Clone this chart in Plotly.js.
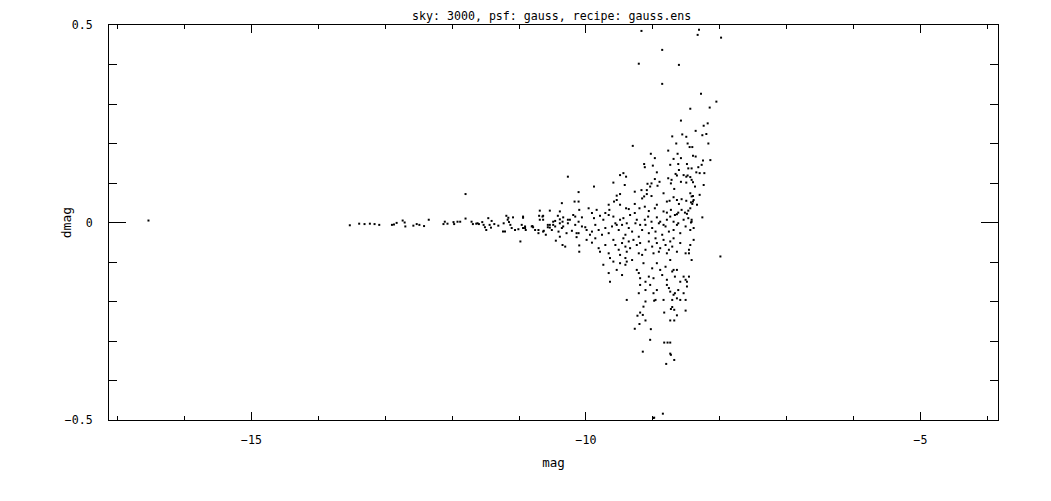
<!DOCTYPE html>
<html>
<head>
<meta charset="utf-8">
<script src="https://cdn.plot.ly/plotly-3.0.1.min.js"></script>
<style>html,body{margin:0;padding:0;background:#fff;}#chart{width:1051px;height:501px;}</style>
</head>
<body>
<div id="chart"></div>
<script>
const titleText = "sky: 3000, psf: gauss, recipe: gauss.ens";
const xTitle = "mag";
const yTitle = "dmag";

const mag = [
-16.54,-13.53,-13.39,-13.31,-13.23,-13.16,-13.09,-12.90,-12.87,-12.83,-12.74,-12.71,-12.70,-12.58,-12.53,-12.49,-12.42,-12.35,-12.13,-12.11,
-12.07,-11.98,-11.97,-11.92,-11.88,-11.80,-11.80,-11.71,-11.69,-11.64,-11.62,-11.60,-11.55,-11.53,-11.51,-11.49,-11.46,-11.44,-11.41,-11.42,
-11.37,-11.31,-11.24,-11.23,-11.21,-11.19,-11.16,-11.17,-11.15,-11.13,-11.11,-11.09,-11.06,-11.01,-10.96,-10.94,-10.91,-10.90,-10.98,-10.80,
-10.71,-10.70,-10.65,-10.64,-10.69,-10.63,-10.60,-10.54,-10.57,-10.54,-10.49,-10.46,-10.45,-10.42,-10.39,-10.36,-10.36,-10.35,-10.39,-10.35,
-10.31,-10.27,-10.29,-10.27,-10.24,-10.21,-10.17,-10.16,-10.14,-10.14,-10.11,-10.10,-10.10,-10.10,
-9.17,-8.31,-8.33,-7.98,-8.86,-9.21,-8.61,-8.86,-8.28,-8.05,-8.15,-8.44,-8.58,-8.18,-8.24,-8.36,-8.20,-8.26,-8.71,-8.56,
-8.50,-9.30,-8.65,-8.48,-8.41,-8.45,-8.17,
-8.77,-9.03,-8.97,-8.63,-8.58,-8.69,-8.40,-8.36,-8.25,-8.14,-9.13,-9.12,-9.00,-8.74,-8.62,-8.49,-8.32,-8.27,-8.35,-8.30,
-8.61,-8.47,-8.42,-8.23,-8.94,-8.66,-8.64,-8.54,-8.50,-8.48,-8.44,-8.42,-9.49,-9.44,-9.40,-8.97,-8.90,-8.77,-8.72,-9.59,
-9.08,-9.02,-8.93,-8.73,-8.58,-8.50,-8.40,-8.37,-9.88,-9.42,-9.17,-9.09,-9.04,-8.68,-9.54,-9.49,-9.27,-9.16,-9.13,-9.09,
-9.02,-8.84,-8.79,-8.75,-8.69,-8.64,-8.61,-8.57,-8.50,-8.44,-8.42,-8.40,-8.39,-8.43,-8.41,-10.11,-9.66,-9.65,-9.58,-9.54,
-9.49,-9.40,-9.36,-9.27,-9.20,-9.12,-9.06,-8.97,-8.94,-8.84,-8.79,-8.73,-8.67,-8.64,-8.62,-8.57,-8.52,-8.47,-8.49,-8.44,
-8.40,-8.26,-8.42,-8.43,-8.24,-8.30,-8.34,
-10.94,-10.91,-10.79,-10.69,-10.64,-10.57,-10.49,-10.39,-10.34,-10.27,-10.19,-10.16,-10.11,-10.06,-10.01,-9.96,-9.91,-9.88,-9.84,-9.79,
-9.74,-9.71,-9.66,-9.59,-9.54,-9.49,-9.44,-9.39,-9.34,-9.27,-9.24,-9.19,-9.12,-9.07,-9.02,-8.94,-8.89,-8.84,-8.79,-8.74,
-8.69,-8.62,-8.54,-8.47,
-10.94,-10.81,-10.76,-10.71,-10.64,-10.54,-10.51,-10.46,-10.41,-10.39,-10.34,-10.11,-10.06,-9.99,-9.94,-9.91,-9.86,-9.81,-9.76,-9.71,
-9.66,-9.61,-9.56,-9.51,-9.46,-9.41,-9.36,-9.31,-9.26,-9.21,-9.16,-9.11,-9.06,-9.01,-8.96,-8.91,-8.86,-8.81,-8.76,-8.69,
-8.64,-8.59,-8.51,-8.44,-8.39,-8.42,
-9.99,-9.91,-9.86,-9.81,-9.79,-9.71,-9.66,-9.64,-9.59,-9.56,-9.51,-9.49,-9.46,-9.44,-9.41,-9.39,-9.36,-9.34,-9.29,-9.24,
-9.21,-9.19,-9.16,-9.11,-9.06,-9.01,-8.99,-8.96,-8.94,-8.91,-8.89,-8.84,-8.81,-8.79,-8.76,-8.74,-8.71,-8.69,-8.64,-8.59,
-8.51,-8.46,-8.44,-8.39,-7.99,
-9.74,-9.66,-9.64,-9.59,-9.54,-9.49,-9.46,-9.41,-9.41,-9.39,-9.31,-9.24,-9.21,-9.19,-9.14,-9.11,-9.06,-9.01,-8.99,-8.94,
-8.89,-8.86,-8.81,-8.79,-8.74,-8.71,-8.69,-8.67,-8.64,-8.59,-8.54,-8.51,-8.49,-8.46,-8.42,-8.46,
-9.21,-9.19,-9.11,-9.04,-8.99,-8.96,-8.94,-8.84,-8.79,-8.76,-8.74,-8.71,-8.69,-8.67,-8.64,-8.62,-8.59,-8.54,-8.51,-8.49,
-9.39,-9.14,-8.71,
-9.11,-8.98,-8.73,-8.68,-8.51,-9.19,-9.15,-9.23,-8.83,-8.64,-9.11,-8.74,-8.68,-9.20,-9.27,-9.03,-9.04,-8.83,-8.78,-8.74,
-9.15,-8.74,-8.73,-8.68,-8.80,-8.85,-8.98,-8.99
];

const dmag = [
0.005,-0.007,-0.003,-0.004,-0.003,-0.004,-0.006,-0.006,-0.005,-0.001,0.005,0.000,-0.010,-0.008,-0.004,-0.006,-0.009,0.007,-0.004,0.002,
-0.003,0.001,-0.004,0.002,0.002,0.072,0.010,0.002,-0.004,-0.003,-0.002,-0.004,0.001,-0.006,-0.012,-0.019,0.011,-0.006,0.004,-0.013,
-0.004,-0.008,-0.023,-0.002,-0.023,0.017,0.012,0.007,0.001,-0.006,-0.014,0.013,-0.019,-0.017,-0.006,0.012,-0.014,-0.019,-0.048,-0.009,
-0.019,0.017,0.015,0.007,0.030,-0.021,-0.031,0.030,-0.006,-0.013,-0.006,0.004,-0.046,0.017,0.008,0.049,-0.014,0.002,-0.036,-0.057,
-0.061,0.116,-0.027,-0.002,0.007,-0.021,0.053,0.015,-0.037,-0.027,0.077,0.032,-0.058,-0.074,
0.485,0.488,0.475,0.468,0.437,0.402,0.399,0.351,0.326,0.306,0.291,0.288,0.258,0.251,0.245,0.232,0.224,0.221,0.218,0.223,
0.217,0.194,0.200,0.200,0.191,0.191,0.200,
0.182,0.174,0.163,0.174,0.163,0.161,0.169,0.167,0.157,0.158,0.148,0.140,0.144,0.146,0.148,0.148,0.140,0.146,0.127,0.125,
0.133,0.137,0.137,0.125,0.127,0.123,0.119,0.120,0.116,0.119,0.115,0.108,0.120,0.125,0.116,0.110,0.103,0.112,0.108,0.101,
0.098,0.099,0.093,0.099,0.103,0.101,0.102,0.091,0.091,0.095,0.082,0.082,0.091,0.085,0.068,0.072,0.078,0.061,0.066,0.072,
0.067,0.074,0.053,0.055,0.064,0.057,0.047,0.059,0.055,0.074,0.066,0.067,0.057,0.051,0.047,0.053,0.045,0.032,0.053,0.057,
0.045,0.036,0.034,0.047,0.036,0.040,0.029,0.036,0.045,0.028,0.025,0.032,0.019,0.021,0.025,0.032,0.025,0.030,0.022,0.036,
0.053,0.013,0.007,0.000,0.095,0.070,0.045,
0.015,-0.010,-0.012,0.007,0.017,-0.012,0.002,0.028,0.013,0.007,0.019,-0.006,0.002,0.013,-0.012,0.036,0.024,0.011,0.032,0.017,
0.007,0.024,0.019,0.015,-0.006,0.007,0.011,-0.002,0.019,0.024,0.007,-0.006,0.007,0.015,0.002,0.013,0.002,-0.006,0.007,0.015,
0.002,-0.002,0.007,0.011,
-0.014,-0.010,-0.019,-0.027,-0.023,-0.006,-0.019,-0.010,-0.023,-0.002,-0.010,-0.027,-0.010,-0.019,-0.031,-0.023,-0.006,-0.019,-0.031,-0.014,
-0.027,-0.010,-0.002,-0.019,-0.006,-0.031,-0.014,-0.023,-0.002,-0.036,-0.019,-0.006,-0.027,-0.014,-0.023,-0.002,-0.031,-0.010,-0.023,-0.019,
-0.006,-0.027,-0.010,-0.019,-0.014,0.002,
-0.044,-0.051,-0.040,-0.065,-0.074,-0.057,-0.078,-0.090,-0.044,-0.057,-0.069,-0.082,-0.052,-0.040,-0.061,-0.074,-0.048,-0.065,-0.044,-0.057,
-0.078,-0.052,-0.082,-0.069,-0.048,-0.061,-0.078,-0.040,-0.052,-0.074,-0.065,-0.044,-0.057,-0.078,-0.069,-0.048,-0.061,-0.040,-0.074,-0.052,
-0.078,-0.069,-0.057,-0.044,-0.086,
-0.107,-0.128,-0.150,-0.099,-0.120,-0.103,-0.133,-0.090,-0.107,-0.099,-0.095,-0.120,-0.128,-0.141,-0.103,-0.150,-0.137,-0.116,-0.141,-0.103,
-0.120,-0.133,-0.112,-0.145,-0.095,-0.124,-0.120,-0.137,-0.120,-0.150,-0.137,-0.145,-0.150,-0.137,-0.095,-0.078,
-0.179,-0.158,-0.171,-0.158,-0.179,-0.196,-0.171,-0.196,-0.158,-0.166,-0.175,-0.196,-0.183,-0.179,-0.192,-0.171,-0.196,-0.179,-0.196,-0.162,
-0.196,-0.213,-0.214,
-0.200,-0.198,-0.219,-0.221,-0.223,-0.228,-0.234,-0.236,-0.228,-0.235,-0.248,-0.248,-0.248,-0.257,-0.269,-0.270,-0.297,-0.304,-0.304,-0.304,
-0.327,-0.332,-0.335,-0.348,-0.358,-0.484,-0.494,-0.495
];

const FONT = "DejaVu Sans Mono, Liberation Mono, monospace";
const FS = 11.6;

const trace = {
  type: 'scatter', mode: 'markers', x: mag, y: dmag,
  marker: {symbol: 'square', size: 2, color: '#000', line: {width: 0}},
  hoverinfo: 'x+y', showlegend: false
};

const layout = {
  width: 1051, height: 501,
  margin: {l: 109, r: 53, t: 25, b: 81, pad: 0},
  paper_bgcolor: '#fff', plot_bgcolor: '#fff',
  font: {family: FONT, size: FS, color: '#000'},
  title: {text: titleText, font: {family: FONT, size: FS, color: '#000'},
          x: 0.498, xanchor: 'center', xref: 'paper', y: 0.968, yanchor: 'middle', yref: 'container'},
  xaxis: {
    range: [-17.13, -3.84], autorange: false,
    tickmode: 'array', tickvals: [-15, -10, -5], ticktext: ['\u221215', '\u221210', '\u22125'],
    ticks: 'inside', ticklen: 8, tickwidth: 1, tickcolor: '#000',
    minor: {tickmode: 'array', tickvals: [-17,-16,-14,-13,-12,-11,-9,-8,-7,-6,-4], ticks: 'inside', ticklen: 4, tickwidth: 1, tickcolor: '#000', showgrid: false},
    showline: true, linecolor: '#000', linewidth: 1, mirror: 'allticks',
    showgrid: false, zeroline: false, ticklabelstandoff: 9,
    title: {text: xTitle, font: {family: FONT, size: 12.5}, standoff: 12},
    tickfont: {family: FONT, size: FS}
  },
  yaxis: {
    range: [-0.5, 0.5], autorange: false,
    tickmode: 'array', tickvals: [-0.5, 0, 0.5], ticktext: ['\u22120.5', '0', '0.5'],
    ticks: 'inside', ticklen: 17, tickwidth: 1, tickcolor: '#000',
    minor: {tickmode: 'array', tickvals: [-0.4,-0.3,-0.2,-0.1,0.1,0.2,0.3,0.4], ticks: 'inside', ticklen: 8, tickwidth: 1, tickcolor: '#000', showgrid: false},
    showline: true, linecolor: '#000', linewidth: 1, mirror: 'allticks',
    showgrid: false, zeroline: false, ticklabelstandoff: 13,
    tickfont: {family: FONT, size: FS}
  },
  annotations: [{
    text: yTitle, xref: 'paper', yref: 'paper', x: -0.0475, y: 0.5, xanchor: 'center', yanchor: 'middle',
    textangle: -90, showarrow: false, font: {family: FONT, size: 13, color: '#000'}
  }]
};

Plotly.newPlot('chart', [trace], layout, {displayModeBar: false, staticPlot: true});
</script>
</body>
</html>
